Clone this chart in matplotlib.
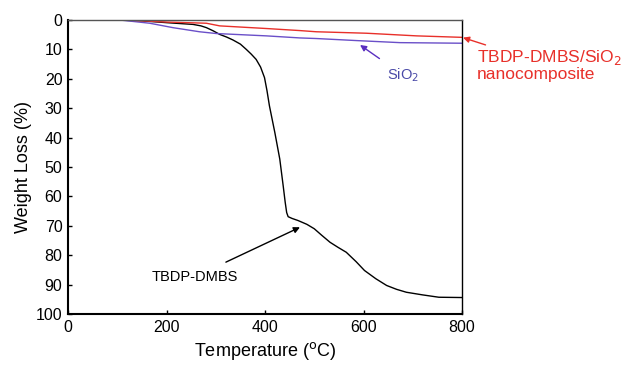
import matplotlib
matplotlib.use("Agg")
import matplotlib.pyplot as plt

plt.rcParams['font.family'] = ['Liberation Sans', 'DejaVu Sans']

# TBDP-DMBS (black)
t_dmbs = [0, 100, 150, 200, 254, 270, 281, 295, 308, 322, 335, 350, 362, 372, 382, 391, 399, 404, 409, 420, 430, 437, 441, 444, 447, 455, 467, 485, 500, 515, 532, 548, 565, 585, 602, 625, 647, 667, 687, 720, 753, 800]
w_dmbs = [0, 0, 0.3, 0.9, 1.5, 2.0, 2.6, 3.7, 4.9, 5.8, 6.8, 8.2, 10.0, 11.6, 13.4, 16.0, 19.6, 24.0, 29.2, 38.3, 47.3, 56.5, 62.0, 65.5, 66.9, 67.5, 68.2, 69.5, 71.0, 73.2, 75.6, 77.3, 79.0, 82.2, 85.2, 88.0, 90.3, 91.6, 92.6, 93.5, 94.3, 94.4]

# SiO2 (blue/purple)
t_sio2 = [0, 105, 166, 213, 267, 301, 403, 471, 504, 586, 674, 800]
w_sio2 = [0, 0, 1.1, 2.6, 4.0, 4.6, 5.4, 6.1, 6.3, 7.0, 7.7, 7.9]

# TBDP-DMBS/SiO2 nanocomposite (red)
t_nano = [0, 118, 200, 281, 308, 403, 471, 504, 606, 708, 800]
w_nano = [0, 0, 0.7, 1.1, 2.0, 2.9, 3.6, 4.0, 4.5, 5.4, 5.9]

x_ticks = [0, 200, 400, 600, 800]
y_ticks = [0, 10, 20, 30, 40, 50, 60, 70, 80, 90, 100]

RED = '#e8302a'
BLUE_LINE = '#6a4fc8'
BLUE_TXT = '#4a4aa8'

fig = plt.figure(figsize=(6.31, 3.66), dpi=100)
ax = fig.add_axes([68/631, 1-314/366, (462-68)/631, (314-20)/366])

ax.plot(t_dmbs, w_dmbs, color='black', lw=1.0)
ax.plot(t_sio2, w_sio2, color=BLUE_LINE, lw=1.0)
ax.plot(t_nano, w_nano, color=RED, lw=1.0)

ax.set_xlim(0, 800)
ax.set_ylim(100, 0)
ax.set_xticks(x_ticks)
ax.set_yticks(y_ticks)
ax.tick_params(direction='in', length=3, width=1, labelsize=11.5, pad=4)
for s in ['left', 'bottom']:
    ax.spines[s].set_linewidth(1.5)
ax.spines['right'].set_linewidth(1.0)
ax.spines['top'].set_color('#555555')
ax.spines['top'].set_linewidth(1.0)

ax.set_xlabel('Temperature ($^{\\mathrm{o}}$C)', fontsize=13, labelpad=4)
ax.set_ylabel('Weight Loss (%)', fontsize=13, labelpad=3)

ax.annotate('TBDP-DMBS', xy=(471, 70.5), xytext=(258, 87.3), fontsize=10.5,
            ha='center', va='center', color='black',
            arrowprops=dict(arrowstyle='-|>', color='black', lw=1.0,
                            mutation_scale=9, shrinkA=8, shrinkB=0))

ax.annotate('SiO$_2$', xy=(593, 8.5), xytext=(680, 18.7), fontsize=10.5,
            ha='center', va='center', color=BLUE_TXT,
            arrowprops=dict(arrowstyle='-|>', color='#5a2fc0', lw=1.0,
                            mutation_scale=9, shrinkA=6, shrinkB=0))

ax.annotate('TBDP-DMBS/SiO$_2$\nnanocomposite', xy=(802, 6.0), xytext=(830, 15.2),
            fontsize=12.5, ha='left', va='center', color=RED, linespacing=1.0,
            annotation_clip=False,
            arrowprops=dict(arrowstyle='-|>', color=RED, lw=1.0,
                            mutation_scale=9, shrinkA=0, shrinkB=0,
                            relpos=(0.12, 1.0)))

fig.savefig('out.png', dpi=100)
